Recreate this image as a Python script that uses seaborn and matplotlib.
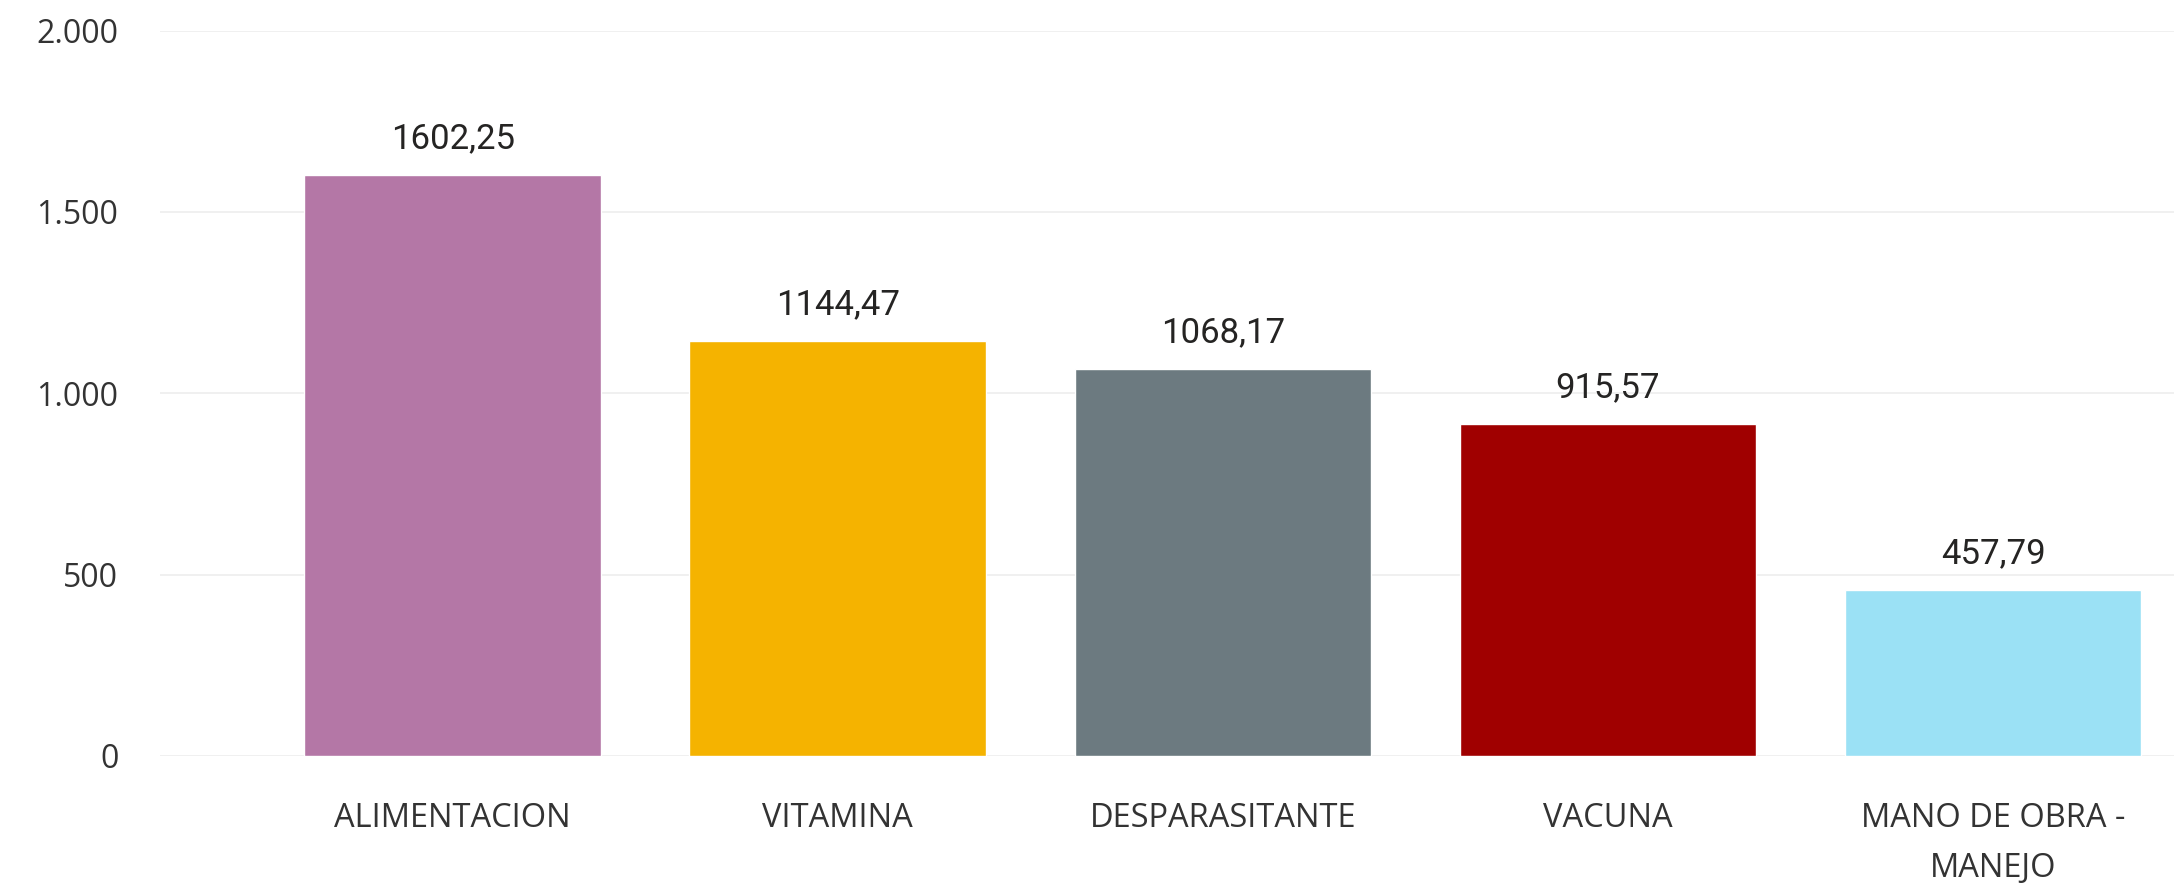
import matplotlib
matplotlib.use("Agg")
import matplotlib.pyplot as plt
import seaborn as sns
import pandas as pd

categories = ["ALIMENTACION", "VITAMINA", "DESPARASITANTE", "VACUNA", "MANO DE OBRA -\nMANEJO"]
values = [1602.25, 1144.47, 1068.17, 915.57, 457.79]
value_labels = ["1602,25", "1144,47", "1068,17", "915,57", "457,79"]
bar_colors = ["#B477A6", "#F5B300", "#6C7A80", "#A00000", "#9BE1F5"]
y_ticks = [0, 500, 1000, 1500, 2000]
y_tick_labels = ["0", "500", "1.000", "1.500", "2.000"]

sns.set_theme(style="white")
plt.rcParams['font.family'] = ['Open Sans', 'DejaVu Sans']

df = pd.DataFrame({"cat": categories, "val": values})

fig = plt.figure(figsize=(21.74, 8.9), dpi=100)
ax = fig.add_axes([0.0736, 0.1506, 0.9264, 0.815])

sns.barplot(data=df, x="cat", y="val", hue="cat", palette=bar_colors,
            legend=False, width=0.77, saturation=1, ax=ax)

ax.set_xlim(-0.76, 4.47)
ax.set_ylim(0, 2000)
ax.set_yticks(y_ticks)
ax.set_yticklabels(y_tick_labels)
ax.set_xlabel("")
ax.set_ylabel("")

# value labels over bars
for i, (v, lab) in enumerate(zip(values, value_labels)):
    ax.annotate(lab, (i, v), xytext=(0, 14), textcoords="offset points",
                ha="center", va="bottom", fontsize=25, color="#252423",
                family=["Roboto", "DejaVu Sans"])

ax.yaxis.grid(True, color="#EDEDED", linewidth=1.2)
ax.set_axisbelow(True)
for s in ax.spines.values():
    s.set_visible(False)

ax.tick_params(axis="y", length=0, pad=30, labelsize=23, labelcolor="#333333")
ax.tick_params(axis="x", length=0, pad=33, labelsize=23.5, labelcolor="#333333")
for t in ax.get_xticklabels():
    t.set_linespacing(1.7)

fig.savefig("out.png", dpi=100, facecolor="white")
